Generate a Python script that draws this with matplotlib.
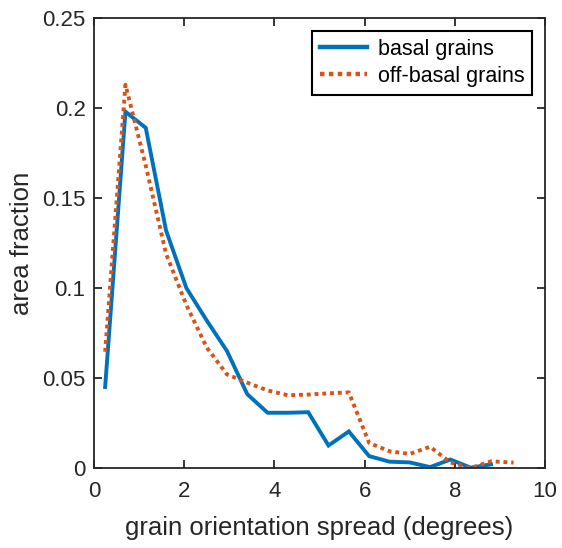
import matplotlib
matplotlib.use("Agg")
import matplotlib.pyplot as plt

plt.rcParams['font.family'] = ['Liberation Sans', 'DejaVu Sans']

x_basal = [0.25, 0.70, 1.15, 1.60, 2.05, 2.50, 2.95, 3.40, 3.85, 4.30, 4.75,
           5.20, 5.65, 6.10, 6.55, 7.00, 7.45, 7.90, 8.35, 8.80]
basal = [0.045, 0.198, 0.189, 0.132, 0.100, 0.082, 0.065, 0.041, 0.0307, 0.0307, 0.031,
         0.0125, 0.0203, 0.0066, 0.0035, 0.0031, 0.0005, 0.0047, 0.0002, 0.0020]

x_off = [0.25, 0.70, 1.15, 1.60, 2.05, 2.50, 2.95, 3.40, 3.85, 4.30, 4.75,
         5.20, 5.65, 6.10, 6.55, 7.00, 7.45, 7.90, 8.35, 8.80, 9.30]
offbasal = [0.0646, 0.213, 0.168, 0.119, 0.0906, 0.067, 0.052, 0.0474, 0.0431, 0.0404, 0.0408,
            0.0415, 0.042, 0.0139, 0.0093, 0.0078, 0.0118, 0.0031, 0.0, 0.0037, 0.003]

xticks = [0, 2, 4, 6, 8, 10]
yticks = [0, 0.05, 0.1, 0.15, 0.2, 0.25]
ytick_labels = ['0', '0.05', '0.1', '0.15', '0.2', '0.25']

fig = plt.figure(figsize=(5.62, 5.48), dpi=100)
ax = fig.add_axes([0.167, 0.146, 0.803, 0.821])

ax.plot(x_basal, basal, color='#0072BD', lw=2.8, label='basal grains', solid_joinstyle='miter')
ax.plot(x_off, offbasal, color='#D95319', lw=2.8, linestyle=(0, (1, 1)), label='off-basal grains')

ax.set_xlim(0, 10)
ax.set_ylim(0, 0.25)
ax.set_xticks(xticks)
ax.set_yticks(yticks)
ax.set_yticklabels(ytick_labels)
ax.tick_params(direction='in', top=True, right=True, length=6, width=1.3,
               labelsize=16, colors='#262626', pad=6)
ax.tick_params(axis='x', pad=9.5)
for s in ax.spines.values():
    s.set_linewidth(1.3)
    s.set_color('#262626')

ax.set_xlabel('grain orientation spread (degrees)', fontsize=18.5, color='#262626', labelpad=10)
ax.set_ylabel('area fraction', fontsize=18.5, color='#262626', labelpad=6)

leg = ax.legend(loc='upper right', fontsize=15.5, fancybox=False, framealpha=1,
                edgecolor='black', handlelength=2.2, borderaxespad=0.6,
                borderpad=0.35, labelspacing=0.3, handletextpad=0.5)
leg.get_frame().set_linewidth(1.5)
for line in leg.get_lines():
    line.set_linewidth(3.2)

fig.savefig('out.png', dpi=100)
